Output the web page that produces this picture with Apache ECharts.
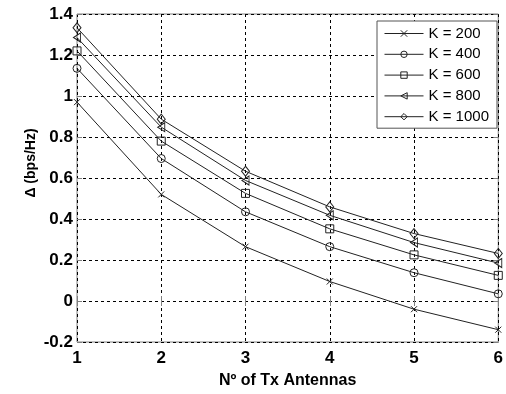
<!DOCTYPE html>
<html>
<head>
<meta charset="utf-8">
<script src="https://cdn.jsdelivr.net/npm/echarts@6/dist/echarts.min.js"></script>
<style>
  html, body { margin: 0; padding: 0; background: #fff; }
  #chart { width: 506px; height: 394px; }
</style>
</head>
<body>
<div id="chart"></div>
<script>
// Number of transmit antennas
var antennas = [1, 2, 3, 4, 5, 6];

// Rate gap (bps/Hz) per user count K
var k200  = [0.97, 0.52, 0.265, 0.095, -0.04, -0.14];
var k400  = [1.135, 0.695, 0.435, 0.265, 0.138, 0.035];
var k600  = [1.22, 0.78, 0.525, 0.352, 0.225, 0.125];
var k800  = [1.285, 0.848, 0.588, 0.418, 0.285, 0.185];
var k1000 = [1.333, 0.887, 0.633, 0.459, 0.329, 0.232];

var seriesNames = ['K = 200', 'K = 400', 'K = 600', 'K = 800', 'K = 1000'];
var seriesValues = [k200, k400, k600, k800, k1000];
var yTicks = [-0.2, 0, 0.2, 0.4, 0.6, 0.8, 1, 1.2, 1.4];

var markers = [
  'path://M0,0L10,10M10,0L0,10',
  'circle',
  'rect',
  'path://M10,0L0,5L10,10Z',
  'path://M5,0L10,6L5,12L0,6Z'
];
var markerSizes = [6, 8, 8, [7, 9], [8, 10]];

var lineColor = '#222';
var boxColor = '#808080';

var chart = echarts.init(document.getElementById('chart'), null, { renderer: 'canvas' });

var series = seriesNames.map(function (name, i) {
  return {
    name: name,
    type: 'line',
    data: antennas.map(function (x, j) { return [x, seriesValues[i][j]]; }),
    symbol: markers[i],
    symbolSize: markerSizes[i],
    showAllSymbol: true,
    lineStyle: { color: lineColor, width: 1 },
    itemStyle: { color: 'rgba(0,0,0,0)', borderColor: lineColor, borderWidth: 1 },
    emphasis: { disabled: true },
    animation: false,
    z: 3
  };
});

var tickFmt = function (v) { return String(Number(v.toFixed(1))); };

chart.setOption({
  animation: false,
  backgroundColor: '#fff',
  grid: {
    left: 77, top: 14, right: 4, bottom: 44,
    show: true, borderColor: boxColor, borderWidth: 1, backgroundColor: '#fff'
  },
  legend: {
    data: seriesNames,
    orient: 'vertical',
    left: 377, top: 21,
    itemWidth: 39, itemHeight: 8, itemGap: 5.8,
    padding: [5, 8, 4, 7],
    backgroundColor: '#fff',
    borderColor: '#555', borderWidth: 1,
    textStyle: { fontFamily: 'Liberation Sans, Arial, sans-serif', fontSize: 15, color: '#000' },
    itemStyle: { color: 'rgba(0,0,0,0)', borderColor: lineColor, borderWidth: 1 },
    lineStyle: { color: lineColor, width: 1 },
    selectedMode: false
  },
  xAxis: [{
    type: 'value', min: 1, max: 6, interval: 1,
    name: 'Nº of Tx Antennas', nameLocation: 'middle', nameGap: 31,
    nameTextStyle: { fontFamily: 'Liberation Sans, Arial, sans-serif', fontSize: 16, fontWeight: 'bold', color: '#000' },
    axisLine: { show: false },
    axisTick: { show: true, inside: true, length: 5, lineStyle: { color: boxColor } },
    axisLabel: { fontFamily: 'Liberation Sans, Arial, sans-serif', fontSize: 17, fontWeight: 'bold', color: '#000', margin: 8 },
    splitLine: { show: true, lineStyle: { color: '#000', type: [3, 3], width: 1 } }
  }, {
    type: 'value', min: 1, max: 6, interval: 1, position: 'top',
    axisLine: { show: false },
    axisTick: { show: true, inside: true, length: 5, lineStyle: { color: boxColor } },
    axisLabel: { show: false }, splitLine: { show: false }
  }],
  yAxis: [{
    type: 'value', min: -0.2, max: 1.4, interval: 0.2,
    axisLine: { show: false },
    axisTick: { show: true, inside: true, length: 5, lineStyle: { color: boxColor } },
    axisLabel: { fontFamily: 'Liberation Sans, Arial, sans-serif', fontSize: 17, fontWeight: 'bold', color: '#000', margin: 4, formatter: tickFmt },
    splitLine: { show: true, lineStyle: { color: '#000', type: [3, 3], width: 1 } }
  }, {
    type: 'value', min: -0.2, max: 1.4, interval: 0.2, position: 'right',
    axisLine: { show: false },
    axisTick: { show: true, inside: true, length: 5, lineStyle: { color: boxColor } },
    axisLabel: { show: false }, splitLine: { show: false }
  }],
  graphic: [{
    type: 'text',
    x: 31, y: 163,
    rotation: Math.PI / 2,
    style: {
      text: 'Δ (bps/Hz)',
      fontFamily: 'Liberation Sans, Arial, sans-serif',
      fontSize: 14, fontWeight: 'bold', fill: '#000',
      align: 'center', verticalAlign: 'middle'
    }
  }],
  series: series
});
</script>
</body>
</html>
